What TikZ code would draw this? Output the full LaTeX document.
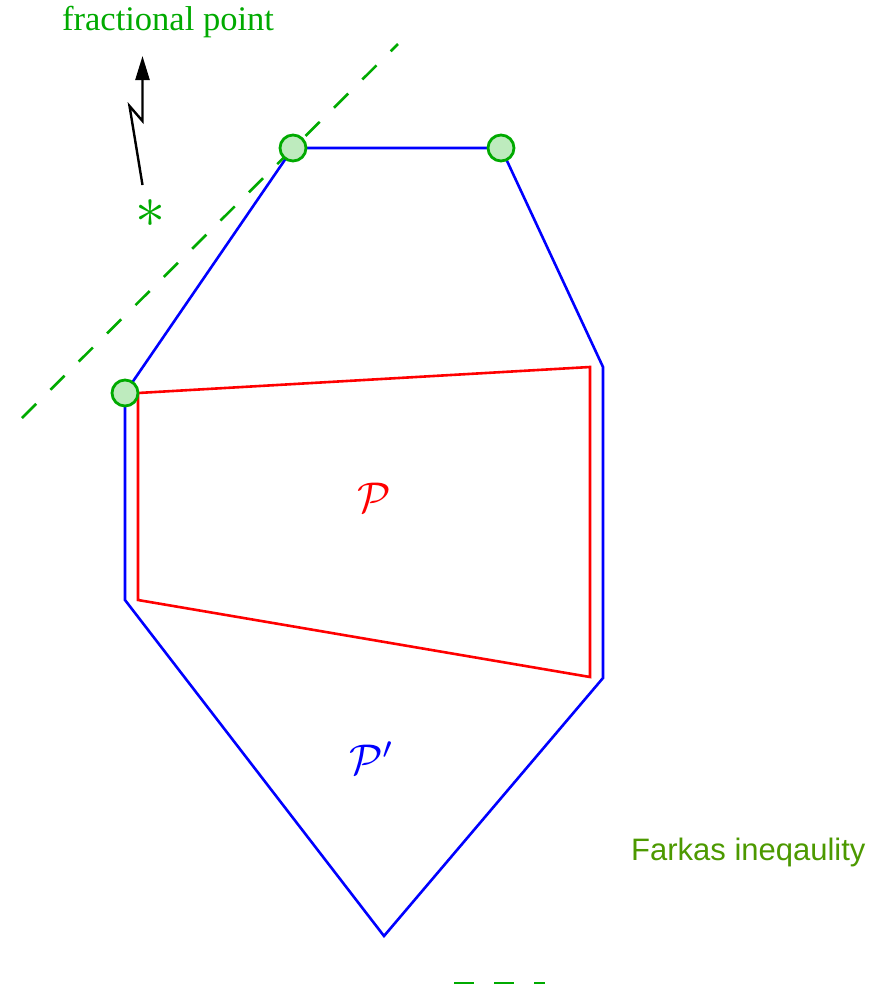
\documentclass[tikz,border=0pt]{standalone}
\usepackage{fontspec}
\setmainfont{Liberation Serif}
\newfontfamily\arialfont{Liberation Sans}
\usetikzlibrary{arrows.meta}
\definecolor{fgreen}{RGB}{0,170,0}
\definecolor{olivegreen}{RGB}{76,153,0}
\definecolor{lightg}{RGB}{190,235,190}
\tikzset{
  polyblue/.style={draw=blue, line width=2.6pt, line join=miter},
  polyred/.style={draw=red, line width=2.6pt},
  vertexdot/.style={circle, draw=fgreen, fill=lightg, line width=2.8pt, minimum size=26pt, inner sep=0pt},
  cutline/.style={draw=fgreen, line width=2.6pt, dash pattern=on 20pt off 20pt},
}
\begin{document}
\begin{tikzpicture}[x=1pt,y=-1pt]
\useasboundingbox (0,0) rectangle (886,989);
% blue polygon P'
\coordinate (b1) at (293,148);
\coordinate (b2) at (501,148);
\coordinate (b3) at (603,367);
\coordinate (b4) at (603,678);
\coordinate (b5) at (384,936);
\coordinate (b6) at (125,600);
\coordinate (b7) at (125,393);
\draw[polyblue] (b1) -- (b2) -- (b3) -- (b4) -- (b5) -- (b6) -- (b7) -- cycle;
% red polygon P
\coordinate (r1) at (138,393);
\coordinate (r2) at (590,367);
\coordinate (r3) at (590,677);
\coordinate (r4) at (138,600);
\draw[polyred] (r1) -- (r2) -- (r3) -- (r4) -- cycle;
% dashed cut line
\coordinate (c1) at (22,418);
\coordinate (c2) at (398,44);
\draw[cutline] (c1) -- (c2);
% bottom dashes
\coordinate (d1) at (454,983);
\coordinate (d2) at (545,983);
\draw[cutline] (d1) -- (d2);
% vertex dots
\node[vertexdot] (v1) at (b1) {};
\node[vertexdot] (v2) at (b2) {};
\node[vertexdot] (v3) at (b7) {};
% labels
\node[text=red, inner sep=0pt] (lp) at (374,498) {\scalebox{4.3}{$\mathcal{P}$}};
\node[text=blue, inner sep=0pt] (lpp) at (372,758) {\scalebox{4.3}{$\mathcal{P}'$}};
\node[text=fgreen, font=\fontsize{34.5}{38}\selectfont, anchor=base west, inner sep=0pt] (fp) at (62,30) {fractional point};
\node[text=olivegreen, font=\arialfont\fontsize{31}{34}\selectfont, anchor=base west, inner sep=0pt] (fk) at (631,860) {Farkas ineqaulity};
\node[text=fgreen, inner sep=0pt] (star) at (150,214) {\scalebox{6}{$\ast$}};
% lightning arrow
\coordinate (a0) at (142.5,185);
\coordinate (a1) at (129.5,106);
\coordinate (a2) at (142.5,121);
\coordinate (a3) at (142.5,56);
\draw[line width=2.4pt, -{Triangle[length=24pt, width=14pt]}] (a0) -- (a1) -- (a2) -- (a3);
\end{tikzpicture}
\end{document}
